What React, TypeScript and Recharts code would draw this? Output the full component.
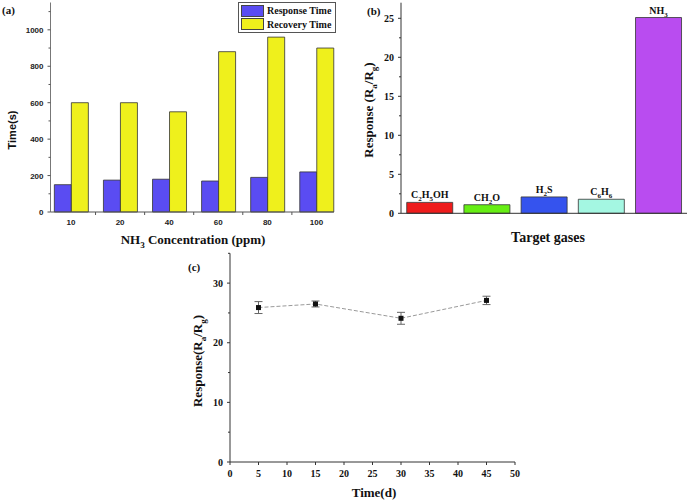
import {
  BarChart,
  Bar,
  XAxis,
  YAxis,
  Legend,
  Cell,
  LabelList,
  LineChart,
  Line,
  ErrorBar,
} from "recharts";

// (a) response / recovery time vs NH3 concentration
const concentrations = ["10", "20", "40", "60", "80", "100"];
const responseTimes = [150, 175, 180, 170, 190, 220];
const recoveryTimes = [600, 600, 550, 880, 960, 900];
const timeTicks = [0, 100, 200, 300, 400, 500, 600, 700, 800, 900, 1000, 1100];

// (b) selectivity
const gases = ["C2H5OH", "CH2O", "H2S", "C6H6", "NH3"];
const gasResponses = [1.4, 1.1, 2.1, 1.8, 25.1];
const gasColors = ["#ee1c1c", "#66ee14", "#3553ee", "#a4f7e2", "#b94cf0"];
const gasTicks = [0, 2.5, 5, 7.5, 10, 12.5, 15, 17.5, 20, 22.5, 25];

// (c) long-term stability
const days = [5, 15, 30, 45];
const stability = [25.9, 26.5, 24.1, 27.1];
const stabilityErr = [1.0, 0.5, 1.0, 0.7];
const dayTicks = [0, 5, 10, 15, 20, 25, 30, 35, 40, 45, 50];
const stabilityTicks = [0, 5, 10, 15, 20, 25, 30, 35];

const SERIF = "'Liberation Serif', 'Times New Roman', serif";
const SANS = "'Liberation Sans', Arial, sans-serif";
const BLUE = "#5a4cf2";
const YELLOW = "#eff01c";
const seriesOrder = ["response", "recovery"];

const concData = concentrations.map((c, i) => ({
  conc: c,
  response: responseTimes[i],
  recovery: recoveryTimes[i],
}));
const gasData = gases.map((g, i) => ({ gas: g, response: gasResponses[i] }));
const stabilityData = days.map((d, i) => ({
  day: d,
  response: stability[i],
  err: stabilityErr[i],
}));

// digits become subscripts: NH3 -> NH₃
const Formula = ({ text, size }: { text: string; size: number }) => {
  const parts = text.match(/\d+|\D+/g) || [];
  let low = false;
  return (
    <>
      {parts.map((p, i) => {
        const sub = /\d/.test(p);
        const dy = sub ? size * 0.3 : low ? -size * 0.3 : 0;
        low = sub;
        return (
          <tspan key={i} dy={dy} fontSize={sub ? size * 0.7 : size}>
            {p}
          </tspan>
        );
      })}
    </>
  );
};

const ConcTick = ({ x, y, payload, index }: any) => (
  <g>
    <text x={x} y={y + 12.5} textAnchor="middle" fontFamily={SANS} fontWeight="bold" fontSize={8} fill="#222">
      {payload.value}
    </text>
    {index < concentrations.length - 1 && (
      <line x1={x + 24.5} x2={x + 24.5} y1={y} y2={y + 3} stroke="#555" />
    )}
  </g>
);

const TimeTick = ({ x, y, payload }: any) => {
  const major = payload.value % 200 === 0;
  return (
    <g>
      <line x1={x} x2={x - (major ? 3 : 2)} y1={y} y2={y} stroke="#555" />
      {major && (
        <text x={x - 7} y={y + 3} textAnchor="end" fontFamily={SANS} fontWeight="bold" fontSize={8} fill="#222">
          {payload.value}
        </text>
      )}
    </g>
  );
};

const serifTick = (every: number) => ({ x, y, payload }: any) => {
  const major = payload.value % every === 0;
  return (
    <g>
      <line x1={x} x2={x - (major ? 3 : 2)} y1={y} y2={y} stroke="#333" />
      {major && (
        <text x={x - 7} y={y + 3.5} textAnchor="end" fontFamily={SERIF} fontWeight="bold" fontSize={10} fill="#111">
          {payload.value}
        </text>
      )}
    </g>
  );
};
const GasTick = serifTick(5);
const StabilityTick = serifTick(10);

const DayTick = ({ x, y, payload }: any) => (
  <g>
    <line x1={x} x2={x} y1={y} y2={y + 3} stroke="#333" />
    <text x={x} y={y + 14.5} textAnchor="middle" fontFamily={SERIF} fontWeight="bold" fontSize={10} fill="#111">
      {payload.value}
    </text>
  </g>
);

const TimeLegend = ({ payload }: any) => {
  const items = [...(payload || [])].sort(
    (a: any, b: any) => seriesOrder.indexOf(a.dataKey) - seriesOrder.indexOf(b.dataKey)
  );
  return (
    <div
      style={{
        border: "1px solid #555",
        background: "#fff",
        padding: "1px 2px",
        boxSizing: "border-box",
        width: 98,
      }}
    >
      {items.map((item: any) => (
        <div key={item.value} style={{ display: "flex", alignItems: "center", height: 13.5 }}>
          <span
            style={{
              display: "inline-block",
              width: 21,
              height: 10,
              background: item.color,
              border: "1px solid #444",
              marginRight: 3,
            }}
          />
          <span style={{ fontFamily: SERIF, fontWeight: "bold", fontSize: 10, color: "#111" }}>{item.value}</span>
        </div>
      ))}
    </div>
  );
};

const GasLabel = ({ x, y, width, value }: any) => (
  <text
    x={x + width / 2}
    y={y - 4}
    textAnchor="middle"
    fontFamily={SERIF}
    fontWeight="bold"
    fontSize={10}
    fill="#111"
  >
    <Formula text={String(value)} size={10} />
  </text>
);

const SquareDot = ({ cx, cy, index }: any) => (
  <rect key={index} x={cx - 2.5} y={cy - 2.5} width={5} height={5} fill="#111" />
);

const ConcentrationChart = () => (
  <BarChart
    width={340}
    height={250}
    data={concData}
    margin={{ top: 2.5, right: 6, bottom: 0, left: 0 }}
    barCategoryGap="16%"
    barGap={0}
  >
    <XAxis
      dataKey="conc"
      height={38}
      padding={{ left: -4, right: -7 }}
      interval={0}
      tickSize={0}
      tickMargin={0}
      tick={<ConcTick />}
      axisLine={{ stroke: "#555" }}
    />
    <XAxis xAxisId="top" dataKey="conc" orientation="top" height={0} tick={false} tickLine={false} axisLine={{ stroke: "#999" }} />
    <YAxis
      width={50.5}
      domain={[0, 1150]}
      ticks={timeTicks}
      interval={0}
      tickSize={0}
      tickMargin={0}
      tick={<TimeTick />}
      axisLine={{ stroke: "#777" }}
    />
    <YAxis yAxisId="right" orientation="right" width={0} domain={[0, 1150]} tick={false} tickLine={false} axisLine={{ stroke: "#999" }} />
    <Legend
      layout="horizontal"
      verticalAlign="middle"
      align="center"
      itemSorter={(item: any) => seriesOrder.indexOf(item.dataKey)}
      wrapperStyle={{ top: 2, left: 238, width: 98, height: 28 }}
      content={<TimeLegend />}
    />
    <Bar dataKey="response" name="Response Time" fill={BLUE} stroke="#333" strokeWidth={0.8} isAnimationActive={false} />
    <Bar dataKey="recovery" name="Recovery Time" fill={YELLOW} stroke="#333" strokeWidth={0.8} isAnimationActive={false} />
  </BarChart>
);

const SelectivityChart = () => (
  <BarChart
    width={348}
    height={250}
    data={gasData}
    margin={{ top: 2.7, right: 1, bottom: 0, left: 0 }}
    barCategoryGap="10%"
  >
    <XAxis dataKey="gas" height={36.7} tick={false} tickLine={false} axisLine={{ stroke: "#333" }} />
    <XAxis xAxisId="top" dataKey="gas" orientation="top" height={0} tick={false} tickLine={false} axisLine={{ stroke: "#222" }} />
    <YAxis
      width={61}
      domain={[0, 27]}
      ticks={gasTicks}
      interval={0}
      tickSize={0}
      tickMargin={0}
      tick={<GasTick />}
      axisLine={{ stroke: "#333" }}
    />
    <YAxis yAxisId="right" orientation="right" width={0} domain={[0, 27]} tick={false} tickLine={false} axisLine={{ stroke: "#999" }} />
    <Bar dataKey="response" stroke="#333" strokeWidth={0.8} isAnimationActive={false}>
      {gasData.map((d, i) => (
        <Cell key={d.gas} fill={gasColors[i]} />
      ))}
      <LabelList dataKey="gas" content={<GasLabel />} />
    </Bar>
  </BarChart>
);

const StabilityChart = () => (
  <LineChart
    width={360}
    height={253}
    data={stabilityData}
    margin={{ top: 3.3, right: 15, bottom: 0, left: 0 }}
  >
    <XAxis
      type="number"
      dataKey="day"
      domain={[0, 50]}
      ticks={dayTicks}
      interval={0}
      height={41}
      tickSize={0}
      tickMargin={0}
      tick={<DayTick />}
      axisLine={{ stroke: "#333" }}
    />
    <XAxis xAxisId="top" type="number" dataKey="day" orientation="top" domain={[0, 50]} height={0} tick={false} tickLine={false} axisLine={{ stroke: "#888" }} />
    <YAxis
      width={60}
      domain={[0, 35]}
      ticks={stabilityTicks}
      interval={0}
      tickSize={0}
      tickMargin={0}
      tick={<StabilityTick />}
      axisLine={{ stroke: "#333" }}
    />
    <YAxis yAxisId="right" orientation="right" width={0} domain={[0, 35]} tick={false} tickLine={false} axisLine={{ stroke: "#888" }} />
    <Line
      dataKey="response"
      stroke="#9a9a9a"
      strokeWidth={1}
      strokeDasharray="4 2"
      dot={<SquareDot />}
      isAnimationActive={false}
    >
      <ErrorBar dataKey="err" width={4} stroke="#666" strokeWidth={1} direction="y" isAnimationActive={false} />
    </Line>
  </LineChart>
);

const Titles = () => (
  <svg
    width={688}
    height={503}
    style={{ position: "absolute", left: 0, top: 0, pointerEvents: "none" }}
  >
    <g fontFamily={SERIF} fontWeight="bold" fill="#111">
      <text x={2} y={14} fontSize={11}>(a)</text>
      <text x={367} y={15} fontSize={11}>(b)</text>
      <text x={188} y={271} fontSize={11}>(c)</text>

      <text x={193} y={244} fontSize={13} textAnchor="middle">
        <Formula text="NH3 Concentration (ppm)" size={13} />
      </text>
      <text x={548} y={242} fontSize={14} textAnchor="middle">Target gases</text>
      <text x={374} y={497} fontSize={13} textAnchor="middle">Time(d)</text>

      <text transform="translate(373,110) rotate(-90)" fontSize={13} textAnchor="middle">
        Response (R<tspan dy={3.5} fontSize={9}>a</tspan>
        <tspan dy={-3.5}>/R</tspan>
        <tspan dy={3.5} fontSize={9}>g</tspan>
        <tspan dy={-3.5}>)</tspan>
      </text>
      <text transform="translate(202,361) rotate(-90)" fontSize={13} textAnchor="middle">
        Response(R<tspan dy={3.5} fontSize={9}>a</tspan>
        <tspan dy={-3.5}>/R</tspan>
        <tspan dy={3.5} fontSize={9}>g</tspan>
        <tspan dy={-3.5}>)</tspan>
      </text>
    </g>
    <text
      transform="translate(16,130) rotate(-90)"
      fontFamily={SANS}
      fontWeight="bold"
      fontSize={11}
      textAnchor="middle"
      fill="#111"
    >
      Time(s)
    </text>
  </svg>
);

export default function App() {
  return (
    <div
      style={{
        position: "absolute",
        left: 0,
        top: 0,
        width: 688,
        height: 503,
        background: "#fff",
        overflow: "hidden",
      }}
    >
      <div style={{ position: "absolute", left: 0, top: 0 }}>
        <ConcentrationChart />
      </div>
      <div style={{ position: "absolute", left: 340, top: 0 }}>
        <SelectivityChart />
      </div>
      <div style={{ position: "absolute", left: 170, top: 250 }}>
        <StabilityChart />
      </div>
      <Titles />
    </div>
  );
}
